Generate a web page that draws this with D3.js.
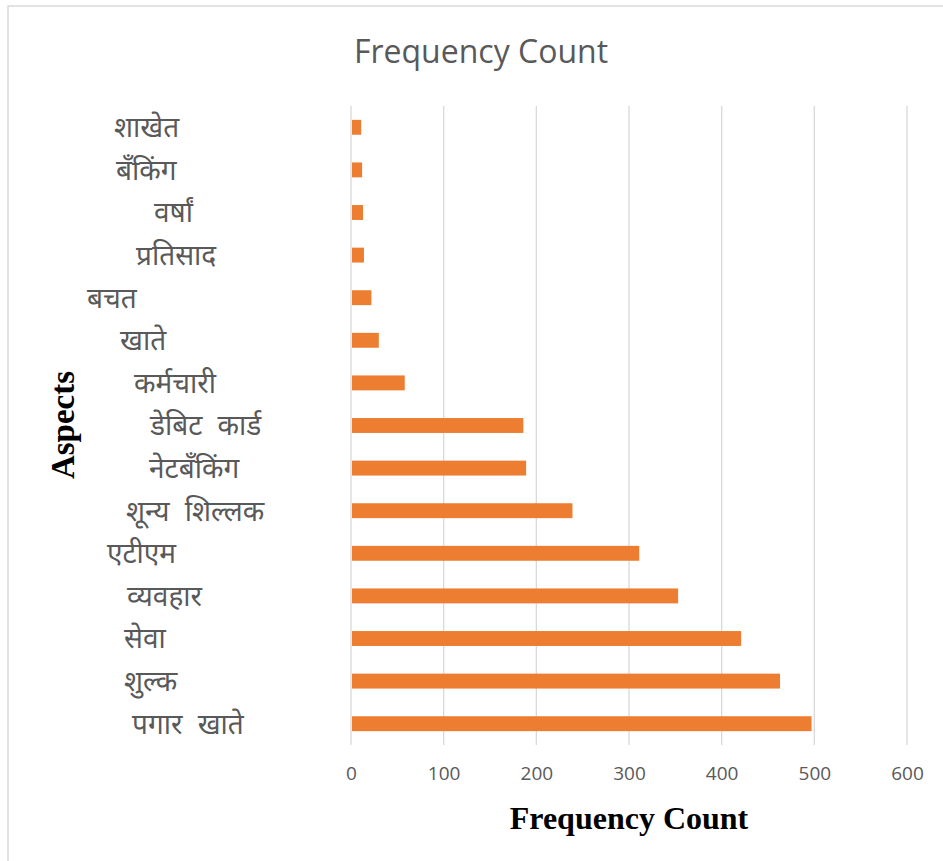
<!DOCTYPE html>
<html>
<head>
<meta charset="utf-8">
<script src="https://cdn.jsdelivr.net/npm/d3@7"></script>
<style>
  html, body { margin: 0; padding: 0; background: #fff; }
  svg { display: block; }
</style>
</head>
<body>
<svg id="chart" width="943" height="861"></svg>
<script>
// Aspects, listed top to bottom as drawn
const categories = ["शाखेत", "बँकिंग", "वर्षां", "प्रतिसाद", "बचत", "खाते", "कर्मचारी", "डेबिट कार्ड", "नेटबँकिंग", "शून्य शिल्लक", "एटीएम", "व्यवहार", "सेवा", "शुल्क", "पगार खाते"];
// Frequency count for each aspect
const counts = [11, 12, 13, 14, 22, 30, 58, 186, 189, 239, 311, 353, 421, 463, 497];
// Axis tick values
const xTicks = [0, 100, 200, 300, 400, 500, 600];

// Left edge of each category label (layout only)
const labelLeft = [114, 116, 154, 136, 87, 120, 134, 150, 149, 126, 107, 127, 124, 124, 132];

const svg = d3.select("#chart");
const plot = { left: 351, right: 907, top: 106, bottom: 745 };

const x = d3.scaleLinear().domain([0, 600]).range([plot.left, plot.right]);
const y = d3.scaleBand().domain(categories).range([plot.top, plot.bottom])
  .paddingInner(0.65).paddingOuter(0.325);

// Chart frame
svg.append("rect")
  .attr("x", 8).attr("y", 6).attr("width", 960).attr("height", 900)
  .attr("fill", "none").attr("stroke", "#d9d9d9").attr("stroke-width", 1.5);

// Title
svg.append("text")
  .attr("x", 481).attr("y", 63)
  .attr("text-anchor", "middle")
  .attr("font-family", "'Open Sans', 'Noto Sans', sans-serif")
  .attr("font-size", 32)
  .attr("fill", "#595959")
  .text("Frequency Count");

// Vertical gridlines
svg.append("g").selectAll("line").data(xTicks).join("line")
  .attr("x1", d => x(d)).attr("x2", d => x(d))
  .attr("y1", plot.top).attr("y2", plot.bottom)
  .attr("stroke", "#d9d9d9").attr("stroke-width", 1.3);

// Bars
svg.append("g").selectAll("rect").data(categories).join("rect")
  .attr("x", x(0) + 1)
  .attr("y", d => y(d))
  .attr("width", (d, i) => x(counts[i]) - x(0) - 1)
  .attr("height", y.bandwidth())
  .attr("fill", "#ED7D31");

// X tick labels
const xAxis = d3.axisBottom(x).tickValues(xTicks).tickSize(0).tickPadding(0);
const gx = svg.append("g").attr("transform", `translate(0, ${plot.bottom})`).call(xAxis);
gx.select(".domain").remove();
gx.selectAll("text")
  .attr("y", 35)
  .attr("dy", 0)
  .attr("font-family", "'Open Sans', 'Noto Sans', sans-serif")
  .attr("font-size", 19)
  .attr("fill", "#595959");

// Category labels
svg.append("g").selectAll("text").data(categories).join("text")
  .attr("x", (d, i) => labelLeft[i])
  .attr("y", d => y(d) + y.bandwidth() / 2)
  .attr("dy", "0.35em")
  .attr("font-family", "'Noto Sans', 'Noto Sans Devanagari', sans-serif")
  .attr("font-size", 28)
  .attr("word-spacing", 8)
  .attr("fill", "#595959")
  .text(d => d);

// Axis titles
svg.append("text")
  .attr("transform", "translate(74, 425) rotate(-90)")
  .attr("text-anchor", "middle")
  .attr("font-family", "'Liberation Serif', 'Times New Roman', serif")
  .attr("font-weight", "bold")
  .attr("font-size", 33)
  .attr("fill", "#000")
  .text("Aspects");

svg.append("text")
  .attr("x", 629).attr("y", 829)
  .attr("text-anchor", "middle")
  .attr("font-family", "'Liberation Serif', 'Times New Roman', serif")
  .attr("font-weight", "bold")
  .attr("font-size", 32)
  .attr("fill", "#000")
  .text("Frequency Count");
</script>
</body>
</html>
